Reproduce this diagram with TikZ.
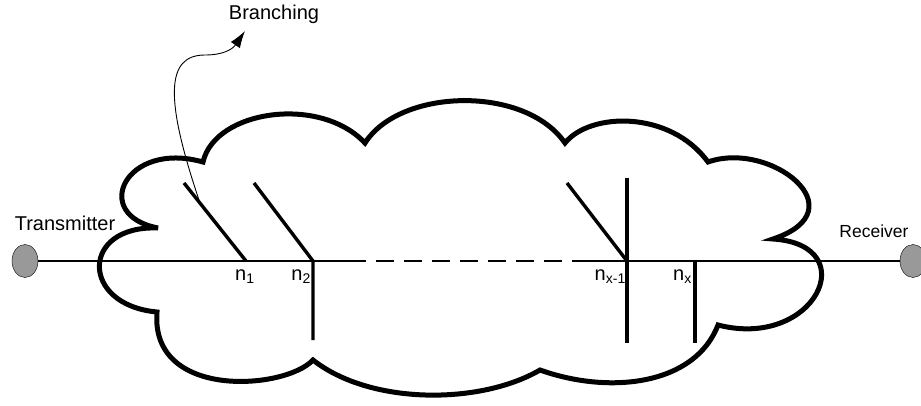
\documentclass[tikz,border=0pt]{standalone}
\usepackage{fontspec}
\setmainfont{Liberation Sans}
\usetikzlibrary{arrows.meta, shapes.geometric, calc, positioning}

\begin{document}
\begin{tikzpicture}[x=1pt, y=-1pt,
  cloudline/.style={line width=5pt, line join=miter},
  branchline/.style={line width=3.4pt},
  wire/.style={line width=1.1pt},
  endpoint/.style={ellipse, draw, fill=black!40, minimum width=26pt, minimum height=33pt, inner sep=0pt},
  lbl/.style={font=\fontsize{20}{20}\selectfont, inner sep=0pt}]
  \useasboundingbox (0,0) rectangle (921,406);

  % network cloud
  \draw[cloudline] (158,228) .. controls (90,215) and (125,140) .. (203,162)
    .. controls (215,110) and (320,95) .. (365,143)
    .. controls (400,88) and (525,85) .. (565,143)
    .. controls (590,112) and (670,110) .. (708,162)
    .. controls (770,140) and (860,210) .. (773,239)
    .. controls (865,245) and (815,350) .. (718,325)
    .. controls (695,385) and (610,395) .. (540,370)
    .. controls (480,405) and (370,405) .. (313,360)
    .. controls (285,390) and (150,400) .. (157,312)
    .. controls (80,305) and (80,225) .. (158,228) -- cycle;

  % end points
  \node[endpoint] (tx) at (25,261) {};
  \node[endpoint] (rx) at (913,261) {};
  \node[lbl, anchor=base] (txlbl) at (65,230) {Transmitter};
  \node[lbl, anchor=base, font=\fontsize{17.5}{17.5}\selectfont] (rxlbl) at (874,238) {Receiver};

  % junctions
  \coordinate (n1) at (246,261);
  \coordinate (n2) at (313,261);
  \coordinate (nx1) at (627,261);
  \coordinate (nx) at (695,261);
  \coordinate (dashA) at (348,261);
  \coordinate (dashB) at (573,261);

  % main line
  \draw[wire] (tx) -- (n1) -- (n2) -- (dashA);
  \draw[wire, dash pattern=on 18pt off 10pt] (dashA) -- (dashB);
  \draw[wire] (dashB) -- (nx1) -- (nx) -- (rx);

  % branches
  \coordinate (b1) at (184,183);
  \coordinate (b2) at (254,183);
  \coordinate (bx1) at (567,183);
  \coordinate (n2d) at (313,340);
  \coordinate (nx1u) at (627,178);
  \coordinate (nx1d) at (627,343);
  \coordinate (nxd) at (695,343);
  \draw[branchline] (b1) -- (n1);
  \draw[branchline] (b2) -- (n2) -- (n2d);
  \draw[branchline] (bx1) -- (nx1);
  \draw[branchline] (nx1u) -- (nx1d);
  \draw[branchline] (nx) -- (nxd);

  % junction labels
  \node[lbl, anchor=base west] (n1lbl) at (235,280) {n\textsubscript{1}};
  \node[lbl, anchor=base east] (n2lbl) at (311,280) {n\textsubscript{2}};
  \node[lbl, anchor=base east] (nx1lbl) at (626,280) {n\textsubscript{x-1}};
  \node[lbl, anchor=base east] (nxlbl) at (692,280) {n\textsubscript{x}};

  % branching arrow
  \node[lbl, anchor=base] (brlbl) at (274,20) {Branching};
  \coordinate (brstart) at ($(b1)!0.26!(n1)$);
  \coordinate (brtip) at (245,31);
  \draw[-{Latex[length=17pt,width=11pt]}, line width=0.9pt] (brstart)
    .. controls (165,100) and (165,55) .. (205,55)
    .. controls (222,55) and (232,50) .. (brtip);
\end{tikzpicture}
\end{document}
